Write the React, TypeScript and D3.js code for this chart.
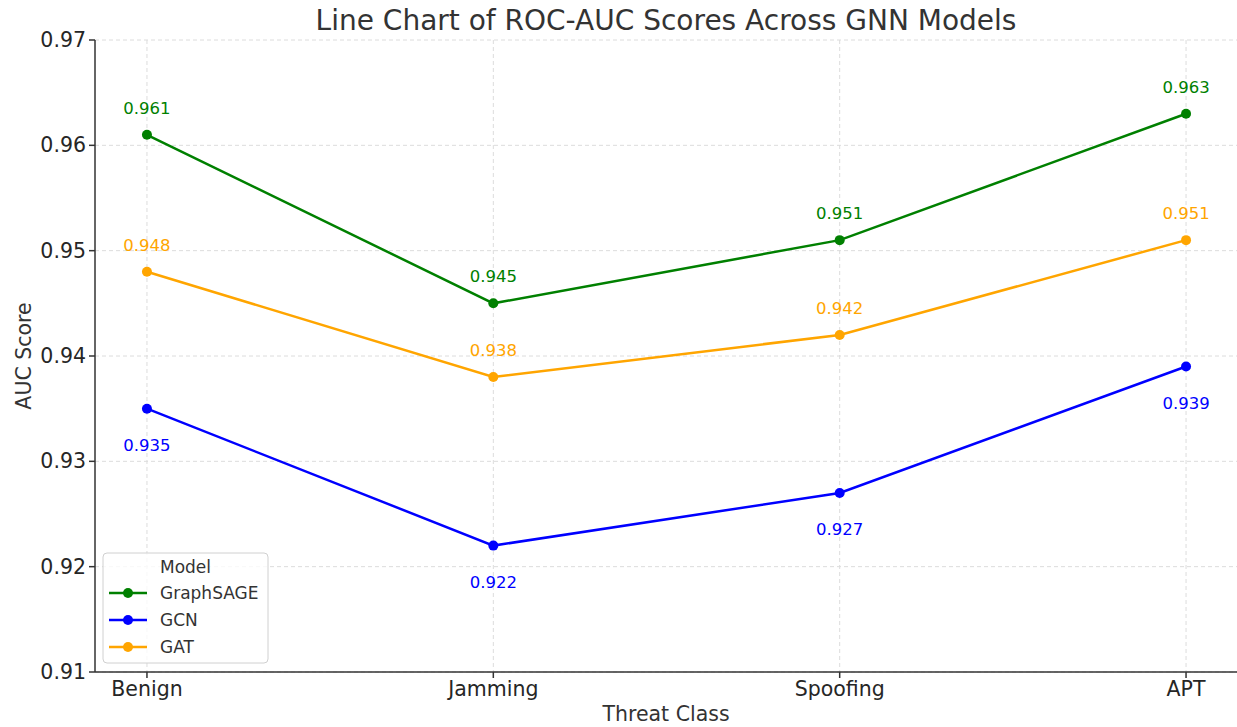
import * as d3 from "d3";

const classes = ["Benign", "Jamming", "Spoofing", "APT"];
const models = ["GraphSAGE", "GCN", "GAT"];
const graphSage = [0.961, 0.945, 0.951, 0.963];
const gcn = [0.935, 0.922, 0.927, 0.939];
const gat = [0.948, 0.938, 0.942, 0.951];
const yTicks = [0.91, 0.92, 0.93, 0.94, 0.95, 0.96, 0.97];

const colors = ["green", "blue", "orange"];
const font = "DejaVu Sans, sans-serif";

export default function App() {
  const width = 1237,
    height = 727;
  const left = 95,
    right = 1238,
    top = 40,
    bottom = 672;

  // matplotlib style: category indices with 5% margin on each side
  const xi = d3.scaleLinear().domain([-0.15, 3.15]).range([left, right]);
  const y = d3.scaleLinear().domain([0.91, 0.97]).range([bottom, top]);

  const series = [graphSage, gcn, gat];
  const line = d3
    .line<number>()
    .x((d, i) => xi(i))
    .y((d) => y(d));

  return (
    <svg
      width={width}
      height={height}
      style={{ position: "absolute", left: 0, top: 0, background: "white" }}
      fontFamily={font}
    >
      <text x={666} y={30} textAnchor="middle" fontSize={28} fill="#333">
        Line Chart of ROC-AUC Scores Across GNN Models
      </text>

      {/* grid */}
      <g stroke="#dcdcdc" strokeDasharray="4,3" strokeWidth={1}>
        {yTicks.map((t) => (
          <line key={t} x1={left} x2={right} y1={y(t)} y2={y(t)} />
        ))}
        {classes.map((c, i) => (
          <line key={c} x1={xi(i)} x2={xi(i)} y1={top} y2={bottom} />
        ))}
      </g>

      {/* axes */}
      <g stroke="#333" strokeWidth={1.5}>
        <line x1={left} x2={left} y1={top} y2={bottom} />
        <line x1={left} x2={right} y1={bottom} y2={bottom} />
        {yTicks.map((t) => (
          <line key={t} x1={left - 6} x2={left} y1={y(t)} y2={y(t)} />
        ))}
        {classes.map((c, i) => (
          <line key={c} x1={xi(i)} x2={xi(i)} y1={bottom} y2={bottom + 6} />
        ))}
      </g>
      <g fontSize={20.5} fill="#262626">
        {yTicks.map((t) => (
          <text
            key={t}
            x={left - 9}
            y={y(t)}
            textAnchor="end"
            dominantBaseline="central"
          >
            {t.toFixed(2)}
          </text>
        ))}
        {classes.map((c, i) => (
          <text key={c} x={xi(i)} y={bottom + 24} textAnchor="middle">
            {c}
          </text>
        ))}
      </g>
      <text x={666} y={721} textAnchor="middle" fontSize={20.5} fill="#333">
        Threat Class
      </text>
      <text
        transform={`translate(31,${(top + bottom) / 2}) rotate(-90)`}
        textAnchor="middle"
        fontSize={20.5}
        fill="#333"
      >
        AUC Score
      </text>

      {/* lines */}
      {series.map((s, k) => (
        <g key={models[k]}>
          <path
            d={line(s) ?? ""}
            fill="none"
            stroke={colors[k]}
            strokeWidth={2.5}
          />
          {s.map((v, i) => (
            <circle key={i} cx={xi(i)} cy={y(v)} r={5} fill={colors[k]} />
          ))}
          {s.map((v, i) => (
            <text
              key={"t" + i}
              x={xi(i)}
              y={k === 1 ? y(v) + 42 : y(v) - 21}
              textAnchor="middle"
              fontSize={16.5}
              fill={colors[k]}
            >
              {v.toFixed(3)}
            </text>
          ))}
        </g>
      ))}

      {/* legend */}
      <g>
        <rect
          x={103}
          y={553}
          width={165}
          height={110}
          rx={4}
          fill="white"
          fillOpacity={0.8}
          stroke="#d0d0d0"
        />
        <text x={160} y={573} fontSize={17} fill="#333">
          Model
        </text>
        {models.map((m, k) => (
          <g key={m} transform={`translate(0,${593 + k * 27})`}>
            <line x1={109} x2={147} y1={0} y2={0} stroke={colors[k]} strokeWidth={2.5} />
            <circle cx={128} cy={0} r={5} fill={colors[k]} />
            <text x={160} y={0} dominantBaseline="central" fontSize={17} fill="#333">
              {m}
            </text>
          </g>
        ))}
      </g>
    </svg>
  );
}
